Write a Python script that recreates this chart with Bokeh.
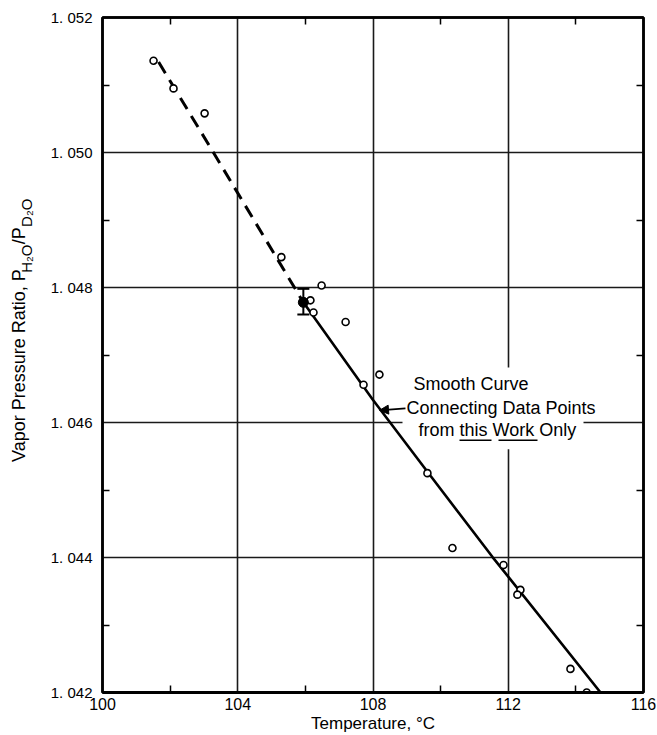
import numpy as np
from bokeh.plotting import figure
from bokeh.layouts import row
from bokeh.models import (FixedTicker, LinearAxis, Label, Arrow, NormalHead,
                          Whisker, TeeHead, ColumnDataSource, Range1d)
from bokeh.core.properties import value
from bokeh.embed import file_html
from bokeh.resources import INLINE

# ---------------- data ----------------
temp_points = [101.51, 102.10, 103.02, 105.29, 106.48, 106.15, 106.24, 107.19,
               107.72, 108.19, 109.61, 110.35, 111.86, 112.36, 112.27, 113.84, 114.32]
ratio_points = [1.05136, 1.05095, 1.05058, 1.04845, 1.04803, 1.04781, 1.04763, 1.04749,
                1.04656, 1.04671, 1.04525, 1.04414, 1.04389, 1.04352, 1.04345, 1.04235, 1.04200]

temp_this_work = [105.94]
ratio_this_work = [1.04778]
ratio_this_work_low = [1.04760]
ratio_this_work_high = [1.04798]

curve_temp = [105.94, 107.99, 109.70, 111.53, 114.73]
curve_ratio = [1.04778, 1.04634, 1.04521, 1.04401, 1.04200]

extrap_temp = [101.66, 103.28, 105.94]
extrap_ratio = [1.05134, 1.05000, 1.04778]

x_major = [100, 104, 108, 112, 116]
x_minor = [102, 106, 110, 114]
x_grid = [104, 108, 112]
y_major = [1.042, 1.044, 1.046, 1.048, 1.050, 1.052]
y_minor = [1.043, 1.045, 1.047, 1.049, 1.051]
y_grid = [1.044, 1.046, 1.048, 1.050]
y_tick_labels = ["1. 042", "1. 044", "1. 046", "1. 048", "1. 050", "1. 052"]

x_title = "Temperature, \u00b0C"
y_title_parts = ["Vapor Pressure Ratio, P", "H\u2082O", "/P", "D\u2082O"]

# ---------------- layout ----------------
W, H = 657, 735
LW = 40                               # width of the strip holding the y title
FL, FR, FT, FB = 102, 643, 17, 694    # frame edges in page pixels
XR = (100, 116)
YR = (1.042, 1.052)


def dx(px):
    return XR[0] + (px - FL) * (XR[1] - XR[0]) / (FR - FL)


def dy(py):
    return YR[1] - (py - FT) * (YR[1] - YR[0]) / (FB - FT)


FONT = "Liberation Sans"

p = figure(width=W - LW, height=H, x_range=Range1d(*XR), y_range=Range1d(*YR),
           output_backend="svg", toolbar_location=None,
           min_border_left=FL - LW, min_border_right=W - FR,
           min_border_top=FT, min_border_bottom=H - FB,
           background_fill_color="white", border_fill_color="white")

p.outline_line_color = "black"
p.outline_line_width = 2.5

# axes
for ax in p.xaxis:
    ax.ticker = FixedTicker(ticks=x_major, minor_ticks=x_minor)
    ax.major_tick_in = 0
    ax.major_tick_out = 0
    ax.minor_tick_in = 7
    ax.minor_tick_out = 0
    ax.minor_tick_line_width = 1.5
    ax.axis_line_width = 3
    ax.major_label_text_font = FONT
    ax.major_label_text_font_size = "16px"
    ax.major_label_text_color = "black"
    ax.major_label_standoff = 5
    ax.axis_label = x_title
    ax.axis_label_text_font = FONT
    ax.axis_label_text_font_size = "17px"
    ax.axis_label_text_font_style = "normal"
    ax.axis_label_text_color = "black"
    ax.axis_label_standoff = 1

for ax in p.yaxis:
    ax.ticker = FixedTicker(ticks=y_major, minor_ticks=y_minor)
    ax.major_tick_in = 0
    ax.major_tick_out = 0
    ax.minor_tick_in = 7
    ax.minor_tick_out = 0
    ax.minor_tick_line_width = 1.5
    ax.axis_line_width = 2.5
    ax.major_label_text_font = FONT
    ax.major_label_text_font_size = "15px"
    ax.major_label_text_color = "black"
    ax.major_label_standoff = 10
    ax.major_label_overrides = {v: s for v, s in zip(y_major, y_tick_labels)}

top_ax = LinearAxis(ticker=FixedTicker(ticks=[], minor_ticks=x_minor),
                    major_tick_in=0, major_tick_out=0, minor_tick_in=7, minor_tick_out=0,
                    minor_tick_line_width=1.5, axis_line_width=2.5, major_label_standoff=0)
right_ax = LinearAxis(ticker=FixedTicker(ticks=[], minor_ticks=y_minor),
                      major_tick_in=0, major_tick_out=0, minor_tick_in=7, minor_tick_out=0,
                      minor_tick_line_width=1.5, axis_line_width=2.5, major_label_standoff=0)
p.add_layout(top_ax, "above")
p.add_layout(right_ax, "right")

# grid
p.xgrid.ticker = FixedTicker(ticks=x_grid)
p.ygrid.ticker = FixedTicker(ticks=y_grid)
for g in (p.xgrid[0], p.ygrid[0]):
    g.grid_line_color = "#1a1a1a"
    g.grid_line_width = 1.6

# white mask behind the annotation text (breaks the grid lines there)
p.quad(left=[dx(402)], right=[dx(583)], top=[dy(368)], bottom=[dy(450)],
       fill_color="white", line_color=None)

# curves
p.line(extrap_temp, extrap_ratio, line_color="black", line_width=3, line_dash="13 8")
p.line(curve_temp, curve_ratio, line_color="black", line_width=2.6)

# error bar on the point from this work
err_src = ColumnDataSource(dict(x=temp_this_work, lo=ratio_this_work_low, hi=ratio_this_work_high))
p.add_layout(Whisker(source=err_src, base="x", lower="lo", upper="hi", dimension="height",
                     line_color="black", line_width=2,
                     lower_head=TeeHead(size=12, line_width=2, line_color="black"),
                     upper_head=TeeHead(size=12, line_width=2, line_color="black")))

# points
p.scatter(temp_points, ratio_points, marker="circle", size=7, fill_color="white",
          line_color="black", line_width=1.6)
p.scatter(temp_this_work, ratio_this_work, marker="circle", size=10, fill_color="black",
          line_color="black")

# annotation
ann_size = "18px"
for txt, px, py in [("Smooth Curve", 413, 385),
                    ("Connecting Data Points", 406, 409),
                    ("from this Work Only", 418, 431)]:
    p.add_layout(Label(x=dx(px), y=dy(py), text=txt, text_align="left",
                       text_baseline="middle", text_font=FONT, text_font_size=ann_size,
                       text_color="black"))
p.segment(x0=[dx(459), dx(498)], y0=[dy(441), dy(441)],
          x1=[dx(491), dx(537)], y1=[dy(441), dy(441)],
          line_color="black", line_width=1.6)
p.add_layout(Arrow(end=NormalHead(size=9, fill_color="black", line_color="black"),
                   x_start=dx(405), y_start=dy(409), x_end=dx(379), y_end=dy(411),
                   line_color="black", line_width=1.6))

# ---------------- y title strip (subscripted title) ----------------
q = figure(width=LW, height=H, x_range=Range1d(0, LW), y_range=Range1d(0, H),
           output_backend="svg", toolbar_location=None, min_border=0,
           x_axis_type=None, y_axis_type=None, outline_line_color=None,
           background_fill_color="white", border_fill_color="white")
ylab_px = [18, 26, 18, 26]
ylab_py = [484, 278, 247, 228]
ylab_fs = ["18px", "15px", "18px", "15px"]
for txt, px, py, fs in zip(y_title_parts, ylab_px, ylab_py, ylab_fs):
    q.text(x=[px], y=[H - py], text=[txt], angle=np.pi / 2, text_align="left",
           text_baseline="middle", text_font=value(FONT), text_font_size=value(fs),
           text_color="black")

layout = row(q, p)
open("out.html", "w").write(file_html(layout, INLINE))
